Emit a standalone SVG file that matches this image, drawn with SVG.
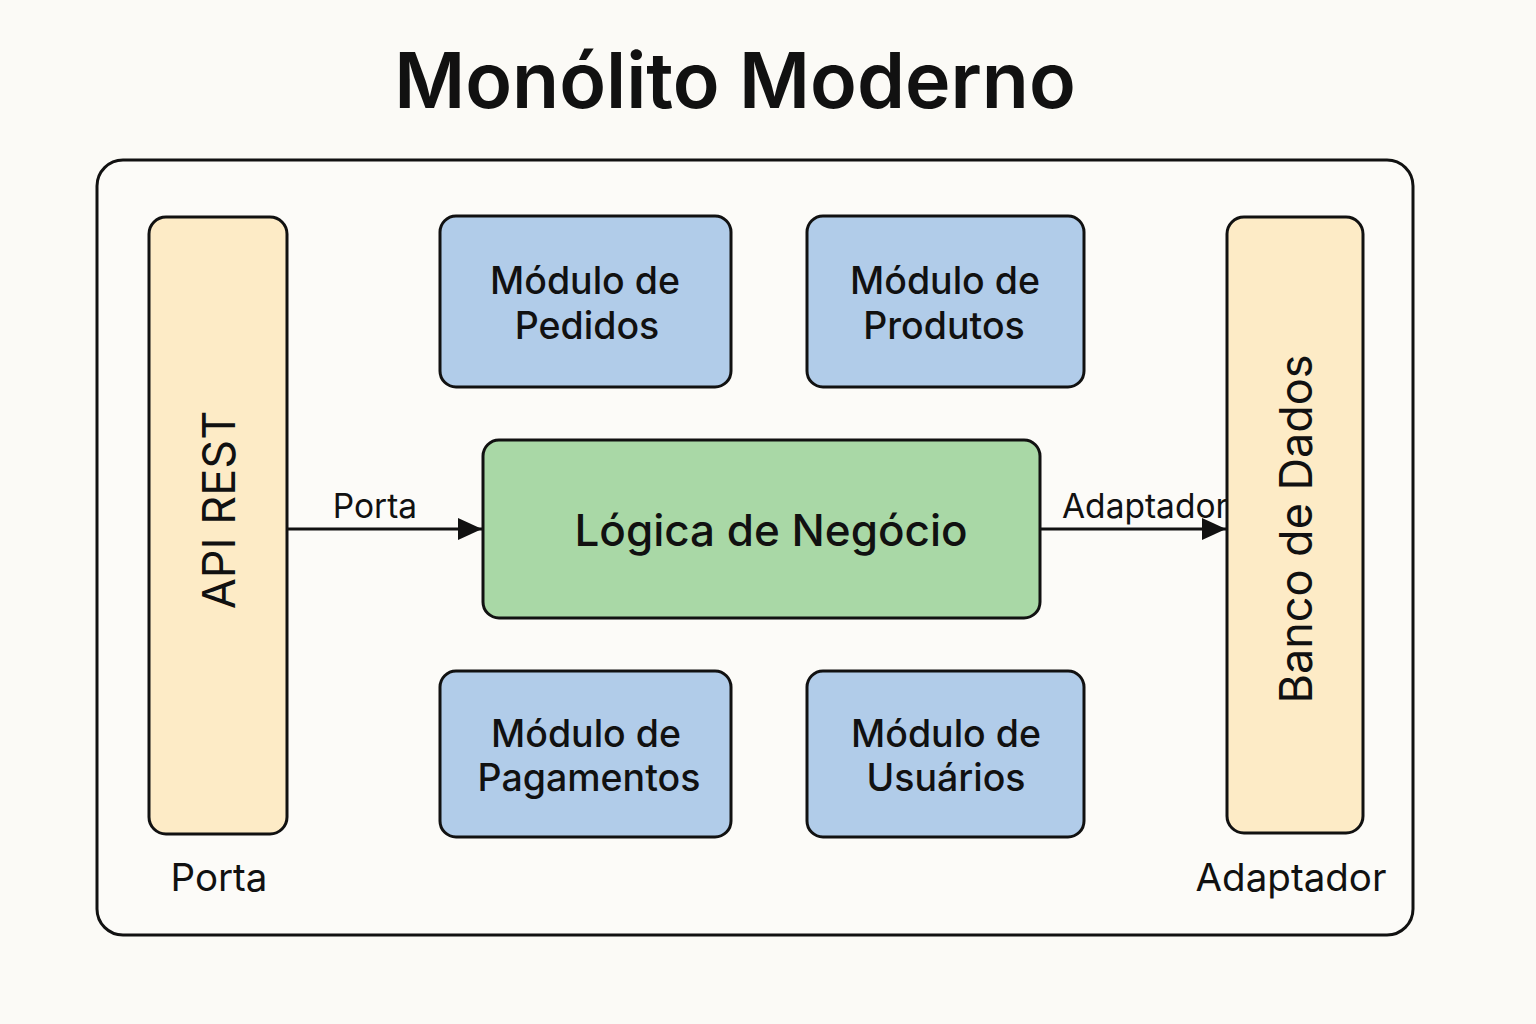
<svg xmlns="http://www.w3.org/2000/svg" width="1536" height="1024" viewBox="0 0 1536 1024">
<defs>
<style>
text{font-family:Inter,"Noto Sans","Liberation Sans",sans-serif;fill:#111;}
.box{stroke:#111;stroke-width:3;}
.mod{fill:#b1cce9;}
.port{fill:#fdebc6;}
.core{fill:#a9d8a6;}
.lbl{font-size:37.5px;font-weight:500;text-anchor:middle;}
.conn{stroke:#111;stroke-width:3;fill:none;marker-end:url(#ah);}
</style>
<marker id="ah" markerWidth="24" markerHeight="22" refX="24" refY="11" orient="auto" markerUnits="userSpaceOnUse" viewBox="0 0 24 22">
<path d="M0,0 L24,11 L0,22 Z" fill="#111"/>
</marker>
</defs>
<rect width="1536" height="1024" fill="#fbfaf6"/>
<text x="735" y="108" font-size="77" font-weight="600" text-anchor="middle">Monólito Moderno</text>
<g id="container"><rect class="box" x="97" y="160" width="1316" height="775" rx="26" fill="#fcfbf8"/></g>
<g id="api-rest"><rect class="box port" x="149" y="217" width="138" height="617" rx="17"/>
<text transform="translate(235,510) rotate(-90)" font-size="45" text-anchor="middle">API REST</text></g>
<g id="banco"><rect class="box port" x="1227" y="217" width="136" height="616" rx="17"/>
<text transform="translate(1312,529) rotate(-90)" font-size="45" text-anchor="middle">Banco de Dados</text></g>
<g id="pedidos"><rect class="box mod" x="440" y="216" width="291" height="171" rx="16"/>
<text class="lbl" x="585" y="294">Módulo de</text><text class="lbl" x="587" y="339">Pedidos</text></g>
<g id="produtos"><rect class="box mod" x="807" y="216" width="277" height="171" rx="16"/>
<text class="lbl" x="945" y="294">Módulo de</text><text class="lbl" x="944" y="339">Produtos</text></g>
<g id="logica"><rect class="box core" x="483" y="440" width="557" height="178" rx="16"/>
<text x="771" y="546" font-size="44" font-weight="500" text-anchor="middle">Lógica de Negócio</text></g>
<g id="pagamentos"><rect class="box mod" x="440" y="671" width="291" height="166" rx="16"/>
<text class="lbl" x="586" y="747">Módulo de</text><text class="lbl" x="589" y="791">Pagamentos</text></g>
<g id="usuarios"><rect class="box mod" x="807" y="671" width="277" height="166" rx="16"/>
<text class="lbl" x="946" y="747">Módulo de</text><text class="lbl" x="946" y="791">Usuários</text></g>
<g id="connectors">
<line class="conn" x1="288" y1="529" x2="482" y2="529"/>
<line class="conn" x1="1041" y1="529" x2="1226" y2="529"/>
<text x="375" y="518" font-size="33.5" text-anchor="middle">Porta</text>
<text x="1062" y="518" font-size="33.5">Adaptador</text>
</g>
<text x="219" y="891" font-size="38.5" text-anchor="middle">Porta</text>
<text x="1291" y="891" font-size="38.5" text-anchor="middle">Adaptador</text>
</svg>
